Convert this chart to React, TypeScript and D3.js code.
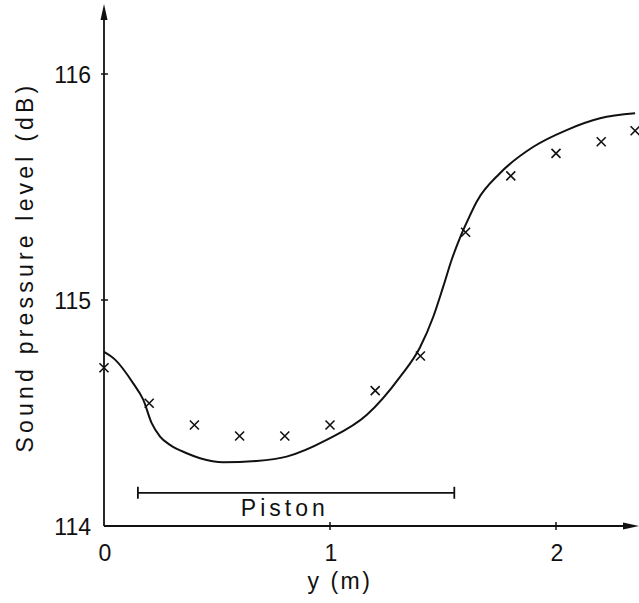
import React from "react";
import * as d3 from "d3";

const curveX = [0, 0.05, 0.13, 0.174, 0.211, 0.248, 0.292, 0.366, 0.425, 0.528, 0.676, 0.808, 0.985, 1.162, 1.31, 1.398, 1.457, 1.501, 1.538, 1.575, 1.608, 1.649, 1.752, 1.9, 2.047, 2.195, 2.35];
const curveY = [114.77, 114.735, 114.63, 114.558, 114.455, 114.396, 114.359, 114.322, 114.3, 114.282, 114.288, 114.307, 114.381, 114.491, 114.66, 114.79, 114.926, 115.059, 115.177, 115.275, 115.35, 115.435, 115.561, 115.678, 115.752, 115.804, 115.826];

const measX = [0, 0.2, 0.4, 0.6, 0.8, 1.0, 1.2, 1.4, 1.6, 1.8, 2.0, 2.2, 2.35];
const measY = [114.7, 114.543, 114.447, 114.398, 114.398, 114.447, 114.599, 114.752, 115.3, 115.549, 115.649, 115.7, 115.749];

const xTicks = [0, 1, 2];
const yTicks = [114, 115, 116];
const pistonRange = [0.15, 1.55];
const pistonLevel = 114.147;

const W = 639;
const H = 603;
const FONT = "'Liberation Sans', Arial, sans-serif";

export default function App() {
  const x = d3.scaleLinear().domain([0, 1]).range([104, 330]);
  const y = d3.scaleLinear().domain([114, 116]).range([526, 74]);
  const line = d3
    .line<number>()
    .x((_, i) => x(curveX[i]))
    .y((d) => y(d))
    .curve(d3.curveMonotoneX);

  const x0 = x(0);
  const y0 = y(114);
  const px1 = x(pistonRange[0]);
  const px2 = x(pistonRange[1]);
  const py = y(pistonLevel);

  return (
    <svg width={W} height={H} style={{ position: "absolute", left: 0, top: 0, background: "#fff" }}>
      {/* axes */}
      <line x1={x0} y1={y0} x2={x0} y2={14} stroke="#111" strokeWidth={1.8} />
      <path d={`M${x0},4 L${x0 - 3.5},20 L${x0 + 3.5},20 Z`} fill="#111" />
      <line x1={x0} y1={y0} x2={630} y2={y0} stroke="#111" strokeWidth={1.8} />
      <path d={`M639,${y0} L623,${y0 - 3.5} L623,${y0 + 3.5} Z`} fill="#111" />
      {yTicks.filter((t) => t !== 114).map((t) => (
        <line key={"yt" + t} x1={x0 - 3} x2={x0 + 4} y1={y(t)} y2={y(t)} stroke="#111" strokeWidth={1.5} />
      ))}
      {xTicks.filter((t) => t !== 0).map((t) => (
        <line key={"xt" + t} x1={x(t)} x2={x(t)} y1={y0 - 4} y2={y0 + 4} stroke="#111" strokeWidth={1.5} />
      ))}
      {yTicks.map((t) => (
        <text key={"yl" + t} x={91} y={y(t) + 8.5} textAnchor="end" fontFamily={FONT} fontSize={23} fill="#111">
          {t}
        </text>
      ))}
      {xTicks.map((t) => (
        <text key={"xl" + t} x={x(t) + 1} y={561} textAnchor="middle" fontFamily={FONT} fontSize={23} fill="#111">
          {t}
        </text>
      ))}
      <text x={340} y={589} textAnchor="middle" fontFamily={FONT} fontSize={23} letterSpacing={2.5} fill="#111">
        y (m)
      </text>
      <text
        transform={`translate(33,267) rotate(-90)`}
        textAnchor="middle"
        fontFamily={FONT}
        fontSize={23}
        letterSpacing={4.2}
        fill="#111"
      >
        Sound pressure level (dB)
      </text>

      {/* piston bar */}
      <line x1={px1} x2={px2} y1={py} y2={py} stroke="#111" strokeWidth={1.8} />
      <line x1={px1} x2={px1} y1={py - 6} y2={py + 6} stroke="#111" strokeWidth={1.8} />
      <line x1={px2} x2={px2} y1={py - 6} y2={py + 6} stroke="#111" strokeWidth={1.8} />
      <text x={x(0.8)} y={py + 23} textAnchor="middle" fontFamily={FONT} fontSize={23} letterSpacing={4} fill="#111">
        Piston
      </text>

      {/* theory curve */}
      <path d={line(curveY) || ""} fill="none" stroke="#111" strokeWidth={2} />

      {/* measured crosses */}
      {measX.map((mx, i) => {
        const cx = x(mx);
        const cy = y(measY[i]);
        const r = 4.5;
        return (
          <path
            key={"m" + i}
            d={`M${cx - r},${cy - r}L${cx + r},${cy + r}M${cx - r},${cy + r}L${cx + r},${cy - r}`}
            stroke="#111"
            strokeWidth={1.6}
            fill="none"
          />
        );
      })}
    </svg>
  );
}
